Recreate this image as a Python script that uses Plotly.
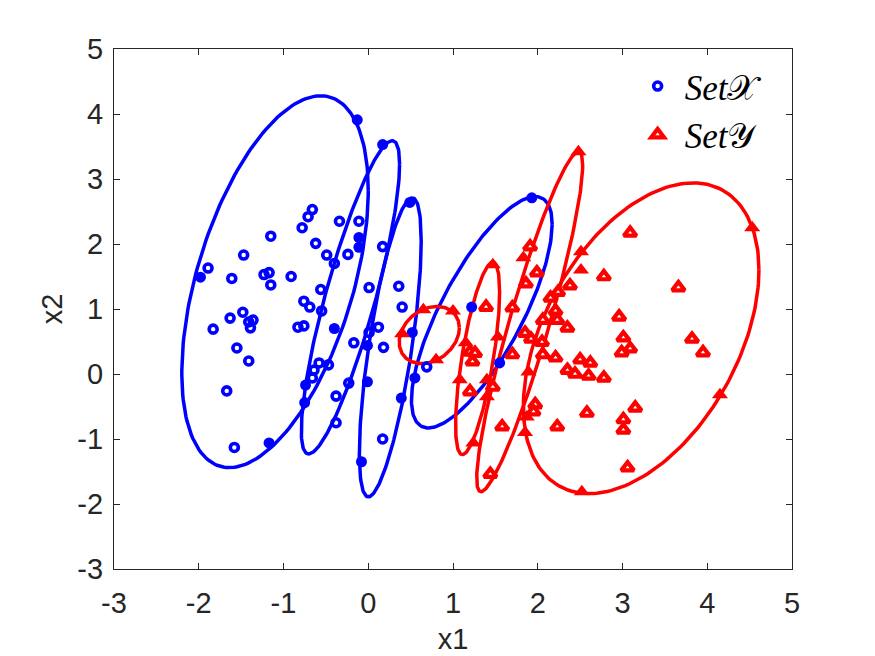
import numpy as np
import plotly.graph_objects as go

# Set X samples (open circles)
xs_x = [-1.89, -1.61, -1.47, -1.15, -0.91, -0.78, -0.71, -0.66, -0.62, -0.49,
        -0.40, -0.34, -0.24, -0.11, 0.17, -1.15, -0.56, 0.01, 0.36, 0.40,
        -0.76, -0.69, -0.55, -1.63, -1.48, -1.41, -1.36, -1.39, -1.83, -0.83,
        -0.76, 0.12, 0.01, -0.17, 0.18, -1.55, -1.41, -0.58, -0.47, -0.64,
        -0.66, -0.23, -0.38, -1.67, -0.38, 0.17, -1.58, 0.69, -1.23, -1.17]
xs_y = [1.63, 1.47, 1.83, 2.12, 1.50, 2.25, 2.42, 2.53, 2.01, 1.83,
        1.70, 2.35, 1.84, 2.35, 1.96, 1.37, 1.30, 1.33, 1.35, 1.03,
        1.12, 1.03, 0.97, 0.86, 0.95, 0.80, 0.83, 0.71, 0.69, 0.72,
        0.74, 0.72, 0.64, 0.48, 0.41, 0.40, 0.20, 0.17, 0.14, 0.06,
        -0.06, -0.14, -0.34, -0.26, -0.75, -1.00, -1.13, 0.11, 1.53, 1.56]

# Set X points lying on the ellipses (filled)
xb_x = [-0.13, -1.98, -1.17, -0.74, -0.75, -0.11, -0.11, -0.40, -0.01, -0.01,
        -0.08, 0.52, 0.55, 0.39, 0.49, 1.93, 1.55, 1.22, 0.17]
xb_y = [3.91, 1.49, -1.06, -0.17, -0.44, 2.10, 1.95, 0.70, 0.44, -0.12,
        -1.35, 0.64, -0.06, -0.37, 2.64, 2.71, 0.17, 1.03, 3.53]

# Set Y samples (triangles)
ys_x = [1.91, 1.99, 1.86, 3.09, 2.78, 2.38, 2.24, 2.15, 1.70, 2.21,
        3.66, 2.96, 2.06, 2.23, 2.35, 3.01, 3.09, 2.99, 3.82, 3.95,
        1.85, 1.92, 2.05, 2.06, 2.21, 1.70, 2.50, 2.62, 2.35, 2.44,
        2.60, 2.78, 2.58, 3.15, 3.01, 3.01, 2.23, 1.97, 1.95, 1.58,
        3.06, 1.39, 1.20, 1.26, 1.23, 1.20, 1.47, 1.44]
ys_y = [1.96, 1.56, 1.39, 2.17, 1.50, 1.36, 1.26, 1.17, 1.02, 0.97,
        1.33, 0.88, 0.83, 0.83, 0.71, 0.56, 0.39, 0.33, 0.54, 0.33,
        0.63, 0.54, 0.49, 0.30, 0.25, 0.30, 0.22, 0.17, 0.06, 0.00,
        -0.03, -0.06, -0.60, -0.52, -0.70, -0.86, -0.81, -0.47, -0.58, -0.81,
        -1.44, 1.03, 0.34, 0.32, 0.19, -0.27, -0.20, -1.54]

# Set Y points lying on the ellipses (filled)
yb_x = [2.48, 4.53, 2.51, 2.51, 1.83, 1.89, 1.87, 1.85, 2.52, 4.15,
        0.65, 1.00, 0.40, 0.80, 1.47, 1.15, 1.53, 1.08, 1.40, 1.40, 1.24]
yb_y = [3.42, 2.25, 1.88, 1.60, 1.79, 0.03, -0.66, -0.90, -1.81, -0.32,
        0.99, 0.97, 0.62, 0.22, 1.68, 0.48, 0.57, -0.09, -0.09, -0.35, -1.06]

# ellipses: centre, half width, half height, correlation
ex_cx = [-1.10, -0.21, 0.26, 1.34]
ex_cy = [1.42, 1.18, 0.41, 0.95]
ex_a = [1.10, 0.58, 0.365, 0.83]
ex_b = [2.86, 2.41, 2.30, 1.78]
ex_r = [0.49, 0.85, 0.71, 0.76]

ey_cx = [0.72, 1.29, 1.905, 3.22]
ey_cy = [0.60, 0.24, 0.805, 0.55]
ey_a = [0.355, 0.26, 0.625, 1.39]
ey_b = [0.44, 1.48, 2.615, 2.39]
ey_r = [0.25, 0.69, 0.92, 0.44]

ticks = [-3, -2, -1, 0, 1, 2, 3, 4, 5]
tick_text = ['-3', '-2', '-1', '0', '1', '2', '3', '4', '5']

BLUE = '#0000ff'
RED = '#ff0000'
GREY = '#262626'
FONT = 'Liberation Sans, Arial'


def ellipse(cx, cy, a, b, r):
    t = np.linspace(0, 2 * np.pi, 200)
    x = cx + a * np.cos(t)
    y = cy + b * (r * np.cos(t) + np.sqrt(1 - r * r) * np.sin(t))
    return x, y


fig = go.Figure()

for i in range(len(ex_cx)):
    ex, ey = ellipse(ex_cx[i], ex_cy[i], ex_a[i], ex_b[i], ex_r[i])
    fig.add_trace(go.Scatter(x=ex, y=ey, mode='lines', line=dict(color=BLUE, width=3.5),
                             showlegend=False, hoverinfo='skip'))
for i in range(len(ey_cx)):
    ex, ey = ellipse(ey_cx[i], ey_cy[i], ey_a[i], ey_b[i], ey_r[i])
    fig.add_trace(go.Scatter(x=ex, y=ey, mode='lines', line=dict(color=RED, width=3.5),
                             showlegend=False, hoverinfo='skip'))

fig.add_trace(go.Scatter(
    x=xs_x, y=xs_y, mode='markers', name='<i>Set</i>\U0001D4B3',
    marker=dict(symbol='circle-open', size=8, color=BLUE, line=dict(width=3.6))
))
fig.add_trace(go.Scatter(
    x=ys_x, y=ys_y, mode='markers', name='<i>Set</i>\U0001D4B4',
    marker=dict(symbol='triangle-up', size=11, color='white', line=dict(color=RED, width=4.2))
))
fig.add_trace(go.Scatter(
    x=xb_x, y=xb_y, mode='markers', showlegend=False,
    marker=dict(symbol='circle', size=11, color=BLUE, line=dict(width=0))
))
fig.add_trace(go.Scatter(
    x=yb_x, y=yb_y, mode='markers', showlegend=False,
    marker=dict(symbol='triangle-up', size=14, color=RED, line=dict(width=0))
))

axis_style = dict(
    range=[-3, 5], showgrid=False, zeroline=False, showline=True, mirror='ticks',
    linecolor=GREY, linewidth=1.2, ticks='inside', ticklen=6, tickwidth=1.2,
    tickcolor=GREY, tickvals=ticks, ticktext=tick_text, automargin=False,
    tickfont=dict(family=FONT, size=29, color=GREY),
)

# the page body has an 8px margin, so the figure sits 8px in from the window corner
fig.update_layout(
    width=859, height=648,
    margin=dict(l=106, r=75, t=41, b=87),
    plot_bgcolor='white', paper_bgcolor='white',
    xaxis=dict(title=dict(text='x1', standoff=10, font=dict(family=FONT, size=29, color=GREY)),
               ticklabelstandoff=8, **axis_style),
    yaxis=dict(title=dict(text='x2', standoff=6, font=dict(family=FONT, size=29, color=GREY)),
               ticklabelstandoff=4, **axis_style),
    legend=dict(x=0.762, y=0.985, xanchor='left', yanchor='top', bgcolor='rgba(0,0,0,0)',
                font=dict(family='Liberation Serif, DejaVu Serif', size=35, color='black'),
                itemwidth=44, tracegroupgap=0),
)

fig.write_html("out.html")
